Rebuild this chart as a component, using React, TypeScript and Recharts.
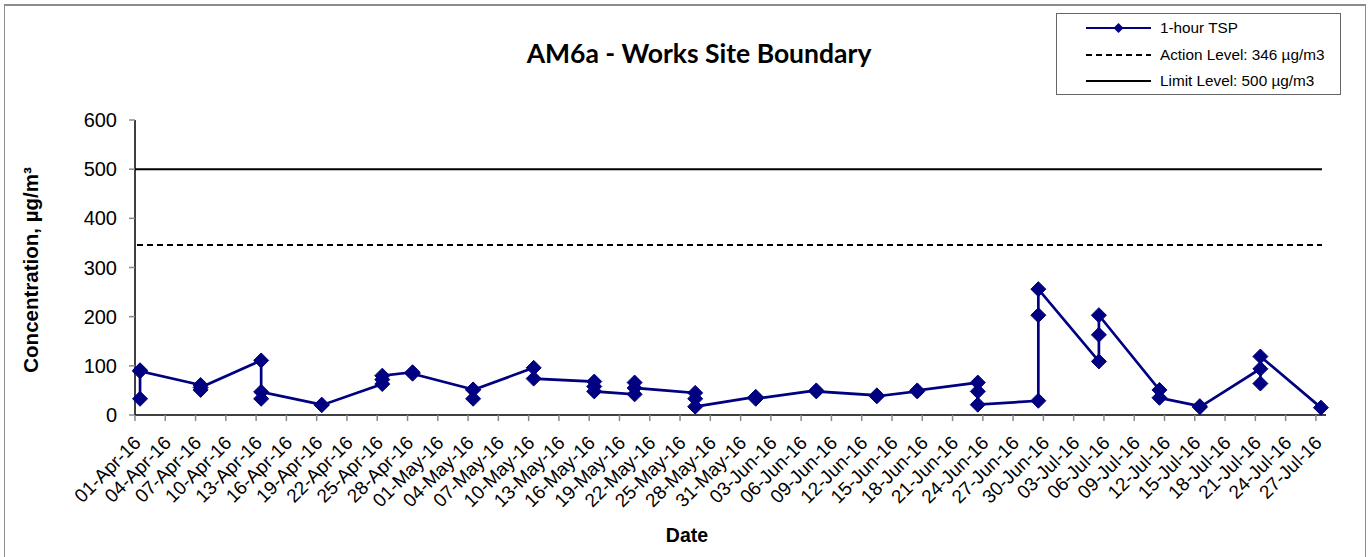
import React from 'react';
import { LineChart, Line, XAxis, YAxis, ReferenceLine, Label } from 'recharts';

// sampling days and the 1-hour TSP readings taken on each of them (µg/m3)
const visitDates = [
    '2016-04-01', '2016-04-07', '2016-04-13', '2016-04-19', '2016-04-25', '2016-04-28',
    '2016-05-04', '2016-05-10', '2016-05-16', '2016-05-20', '2016-05-26',
    '2016-06-01', '2016-06-07', '2016-06-13', '2016-06-17', '2016-06-23', '2016-06-29',
    '2016-07-05', '2016-07-11', '2016-07-15', '2016-07-21', '2016-07-27',
];
const tspReadings = [
    [91, 33, 89], [61, 51, 56], [111, 33, 47], [21, 20], [63, 72, 80], [87, 84],
    [52, 33, 51], [96, 74], [68, 58, 48], [42, 66, 55], [45, 33, 17],
    [37, 33], [50, 48], [40, 38], [48, 50], [66, 48, 21], [29, 203, 256],
    [109, 163, 203], [51, 35], [18, 16], [94, 64, 119], [15],
];

const ACTION_LEVEL = 346;
const LIMIT_LEVEL = 500;
const yTicks = [0, 100, 200, 300, 400, 500, 600];
const START = '2016-04-01';
const LAST_DAY = '2016-07-27';
const MONTHS = ['Jan', 'Feb', 'Mar', 'Apr', 'May', 'Jun', 'Jul', 'Aug', 'Sep', 'Oct', 'Nov', 'Dec'];

const NAVY = '#000080';
const FONT = '"Liberation Sans", Arial, sans-serif';

const dayMs = 24 * 3600 * 1000;
const startMs = Date.parse(START);
const dayIndex = (d: string) => Math.round((Date.parse(d) - startMs) / dayMs);
const lastIndex = dayIndex(LAST_DAY);

// excel date axis puts each day's points in the middle of its slot
const chartData = visitDates.flatMap((d, i) =>
    tspReadings[i].map(v => ({ day: dayIndex(d) + 0.5, value: v }))
);

const xTicks: number[] = [];
for (let i = 0; i <= lastIndex; i += 3) xTicks.push(i);

const fmtDate = (idx: number) => {
    const dt = new Date(startMs + idx * dayMs);
    const dd = String(dt.getUTCDate()).padStart(2, '0');
    const yy = String(dt.getUTCFullYear()).slice(2);
    return `${dd}-${MONTHS[dt.getUTCMonth()]}-${yy}`;
};

const DateTick = (props: any) => {
    const { x, y, payload } = props;
    const ax = x + 7;
    const ay = y + 21;
    return (
        <text x={ax} y={ay} transform={`rotate(-45, ${ax}, ${ay})`} textAnchor="end"
            fontSize={19} fontFamily={FONT} fill="#000">
            {fmtDate(payload.value)}
        </text>
    );
};

const Diamond = (props: any) => {
    const { cx, cy, index } = props;
    if (cx == null || cy == null) return <g key={`d-${index}`} />;
    const r = 7.5;
    return (
        <polygon key={`d-${index}`} points={`${cx},${cy - r} ${cx + r},${cy} ${cx},${cy + r} ${cx - r},${cy}`}
            fill={NAVY} stroke={NAVY} strokeWidth={1} />
    );
};

const YTitle = () => (
    <text x={33} y={270} transform="rotate(-90, 33, 270)" textAnchor="middle" dominantBaseline="middle"
        fontFamily={FONT} fontWeight={700} fontSize={20.5} fill="#000">
        Concentration, µg/m³
    </text>
);

const XTitle = () => (
    <text x={687} y={542} textAnchor="middle" fontFamily={FONT} fontWeight={700} fontSize={19.5} fill="#000">
        Date
    </text>
);

const LegendBox = () => (
    <div style={{
        position: 'absolute', left: 1056, top: 13, width: 283, height: 80,
        border: '1px solid #666', background: '#fff', fontFamily: FONT, fontSize: 15.3, color: '#000',
    }}>
        {[
            { name: '1-hour TSP', stroke: NAVY, dash: undefined, marker: true },
            { name: `Action Level: ${ACTION_LEVEL} µg/m3`, stroke: '#000', dash: '6 4', marker: false },
            { name: `Limit Level: ${LIMIT_LEVEL} µg/m3`, stroke: '#000', dash: undefined, marker: false },
        ].map((it, i) => (
            <div key={it.name} style={{ position: 'absolute', left: 0, top: 3 + i * 26.5, height: 22, display: 'flex', alignItems: 'center' }}>
                <svg width={100} height={22} style={{ display: 'block' }}>
                    <line x1={29} y1={11} x2={94} y2={11} stroke={it.stroke} strokeWidth={2} strokeDasharray={it.dash} />
                    {it.marker && <polygon points="61.5,6 66.5,11 61.5,16 56.5,11" fill={NAVY} />}
                </svg>
                <span style={{ marginLeft: 3, whiteSpace: 'nowrap' }}>{it.name}</span>
            </div>
        ))}
    </div>
);

const App: React.FC = () => {
    return (
        <div style={{ position: 'absolute', left: 0, top: 0, width: 1368, height: 557, background: '#fff', overflow: 'hidden' }}>
            <div style={{ position: 'absolute', left: 4, top: 4, width: 1360, height: 600, border: '1px solid #8c8c8c', borderTopWidth: 2 }} />
            <div style={{
                position: 'absolute', left: 0, top: 37, width: 1398, textAlign: 'center',
                fontFamily: 'Lato, "Open Sans", sans-serif', fontWeight: 700, fontSize: 26.5, color: '#000',
            }}>
                AM6a - Works Site Boundary
            </div>
            <LegendBox />
            <LineChart width={1368} height={557} data={chartData}
                margin={{ top: 120, right: 42, bottom: 0, left: 0 }}>
                <XAxis dataKey="day" type="number" domain={[0, lastIndex + 1]} ticks={xTicks}
                    interval={0} tick={<DateTick />} tickSize={6} height={142}
                    axisLine={{ stroke: '#000', strokeWidth: 1.5 }} tickLine={{ stroke: '#888', strokeWidth: 1.5 }}>
                    <Label content={<XTitle />} />
                </XAxis>
                <YAxis type="number" domain={[0, 600]} ticks={yTicks} interval={0} width={135}
                    tickSize={6} tickMargin={12}
                    tick={{ fontSize: 20, fontFamily: FONT, fill: '#000' }}
                    axisLine={{ stroke: '#000', strokeWidth: 1.5 }} tickLine={{ stroke: '#888', strokeWidth: 1.5 }}>
                    <Label content={<YTitle />} />
                </YAxis>
                <ReferenceLine segment={[{ x: 0, y: LIMIT_LEVEL }, { x: lastIndex + 0.6, y: LIMIT_LEVEL }]}
                    stroke="#000" strokeWidth={2} />
                <ReferenceLine segment={[{ x: 0.2, y: ACTION_LEVEL }, { x: lastIndex + 0.6, y: ACTION_LEVEL }]}
                    stroke="#000" strokeWidth={2} strokeDasharray="6 4" />
                <Line type="linear" dataKey="value" stroke={NAVY} strokeWidth={2.7}
                    dot={Diamond} activeDot={false} isAnimationActive={false} />
            </LineChart>
        </div>
    );
};

export default App;
